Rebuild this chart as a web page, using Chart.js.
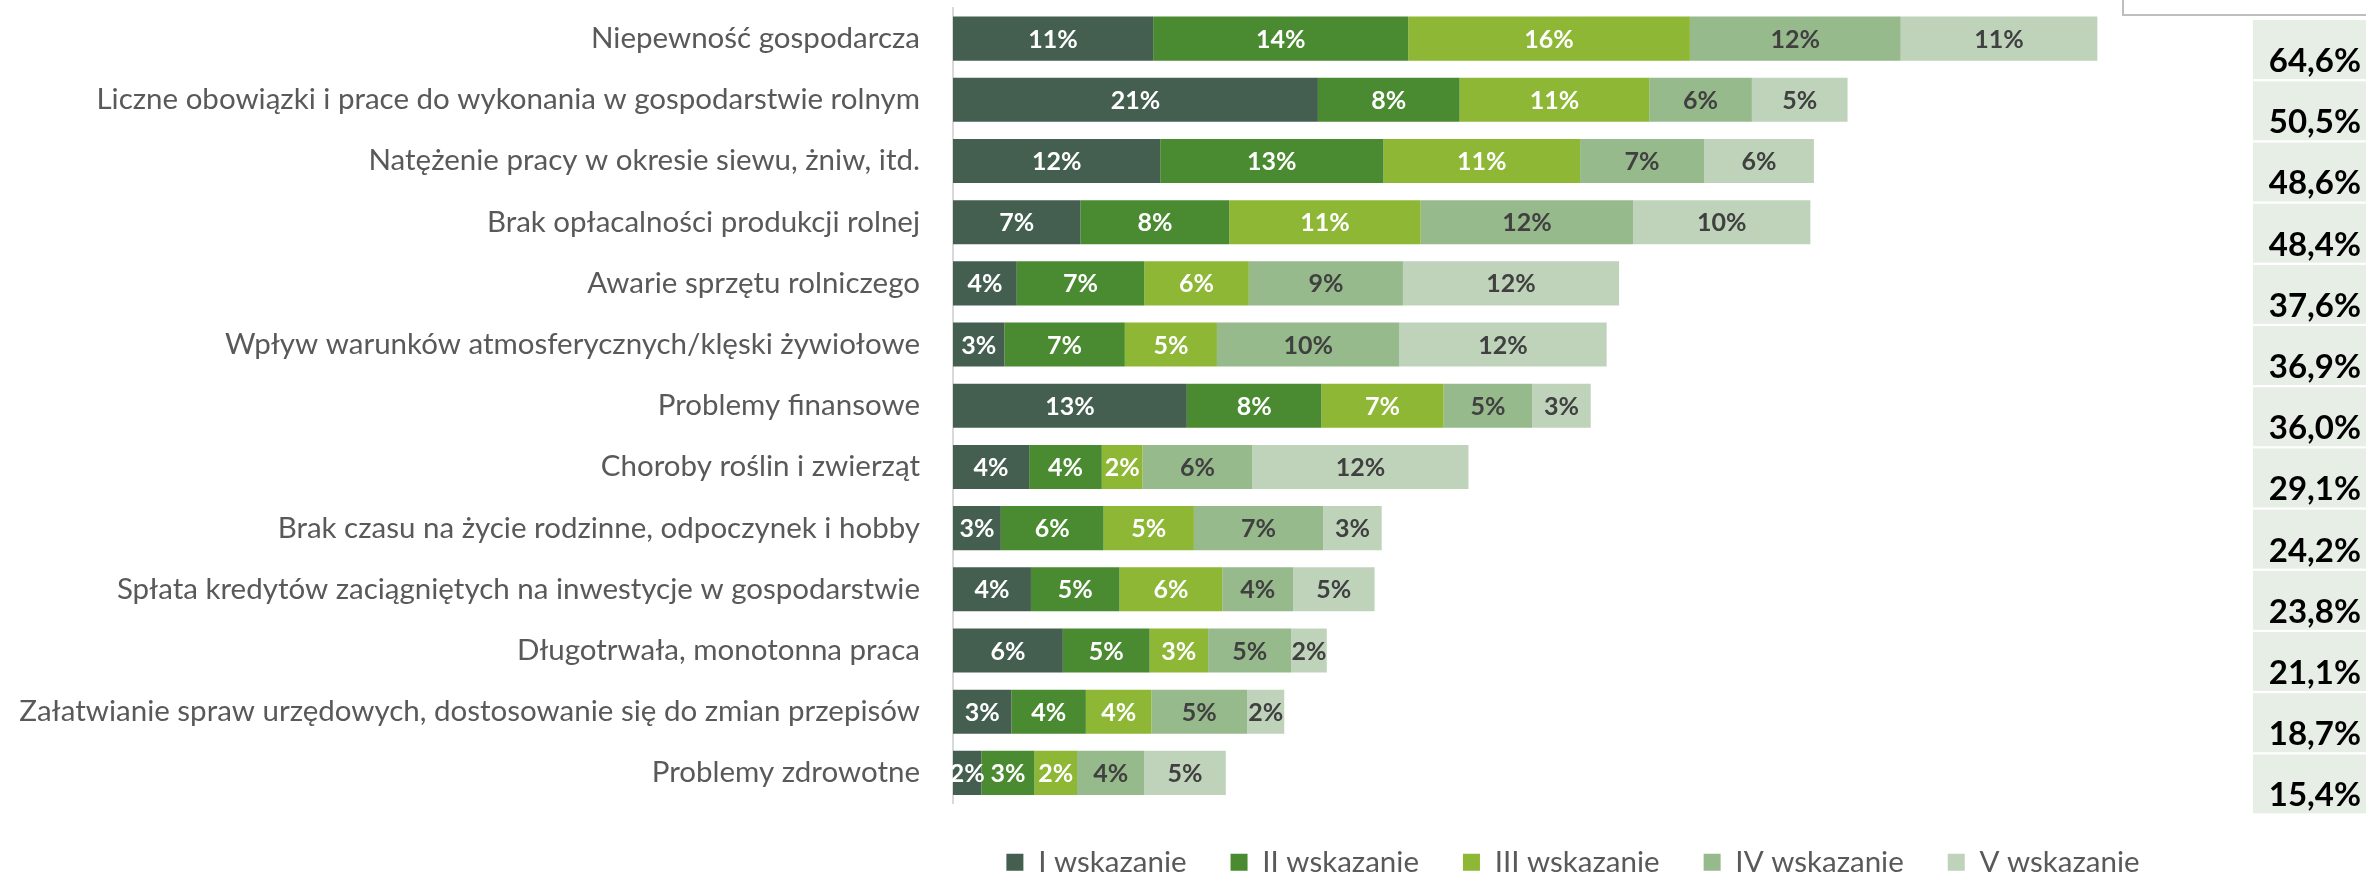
<!DOCTYPE html>
<html><head><meta charset="utf-8">
<script src="https://cdn.jsdelivr.net/npm/chart.js@4.4.1/dist/chart.umd.min.js"></script>
<style>html,body{margin:0;padding:0;background:#fff}#wrap{width:2366px;height:873px;position:relative}</style>
</head><body><div id="wrap"><canvas id="c" width="2366" height="873"></canvas></div>
<script>
const categories = [
  'Niepewność gospodarcza',
  'Liczne obowiązki i prace do wykonania w gospodarstwie rolnym',
  'Natężenie pracy w okresie siewu, żniw, itd.',
  'Brak opłacalności produkcji rolnej',
  'Awarie sprzętu rolniczego',
  'Wpływ warunków atmosferycznych/klęski żywiołowe',
  'Problemy finansowe',
  'Choroby roślin i zwierząt',
  'Brak czasu na życie rodzinne, odpoczynek i hobby',
  'Spłata kredytów zaciągniętych na inwestycje w gospodarstwie',
  'Długotrwała, monotonna praca',
  'Załatwianie spraw urzędowych, dostosowanie się do zmian przepisów',
  'Problemy zdrowotne'
];
const seriesNames = ['I wskazanie', 'II wskazanie', 'III wskazanie', 'IV wskazanie', 'V wskazanie'];
const wsk1 = [11.3, 20.6, 11.7, 7.2, 3.6, 2.9, 13.2, 4.3, 2.7, 4.4, 6.2, 3.3, 1.6];
const wsk2 = [14.4, 8.0, 12.6, 8.4, 7.2, 6.8, 7.6, 4.1, 5.8, 5.0, 4.9, 4.2, 3.0];
const wsk3 = [15.9, 10.7, 11.1, 10.8, 5.9, 5.2, 6.9, 2.3, 5.1, 5.8, 3.3, 3.7, 2.4];
const wsk4 = [11.9, 5.8, 7.0, 12.0, 8.7, 10.3, 5.0, 6.2, 7.3, 4.0, 4.7, 5.4, 3.8];
const wsk5 = [11.1, 5.4, 6.2, 10.0, 12.2, 11.7, 3.3, 12.2, 3.3, 4.6, 2.0, 2.1, 4.6];
const totals = [64.6, 50.5, 48.6, 48.4, 37.6, 36.9, 36.0, 29.1, 24.2, 23.8, 21.1, 18.7, 15.4];

const colors = ['#445F50', '#4A8A30', '#8DB735', '#97BA8C', '#BFD3BB'];
const labelColors = ['#ffffff', '#ffffff', '#ffffff', '#404040', '#404040'];
const seriesData = [wsk1, wsk2, wsk3, wsk4, wsk5];

const segLabels = {
  id: 'segLabels',
  afterDatasetsDraw(chart) {
    const ctx = chart.ctx;
    ctx.save();
    ctx.font = 'bold 25px Lato';
    ctx.textAlign = 'center';
    ctx.textBaseline = 'middle';
    chart.data.datasets.forEach((ds, i) => {
      const meta = chart.getDatasetMeta(i);
      ctx.fillStyle = labelColors[i];
      meta.data.forEach((bar, j) => {
        const p = bar.getProps(['x', 'y', 'base'], true);
        ctx.fillText(Math.round(ds.data[j]) + '%', (p.x + p.base) / 2, p.y + 1);
      });
    });
    ctx.restore();
  }
};

const totalsCol = {
  id: 'totalsCol',
  afterDraw(chart) {
    const ctx = chart.ctx;
    const ys = chart.scales.y;
    ctx.save();
    ctx.strokeStyle = '#BFBFBF';
    ctx.lineWidth = 2;
    ctx.strokeRect(2123, -20, 260, 35);
    totals.forEach((t, j) => {
      const yc = ys.getPixelForValue(j) + 11;
      ctx.fillStyle = '#E7EEE6';
      ctx.fillRect(2253, yc - 29.5, 120, 59);
      ctx.fillStyle = '#000000';
      ctx.font = 'bold 33px Lato';
      ctx.textAlign = 'right';
      ctx.textBaseline = 'alphabetic';
      ctx.fillText(t.toFixed(1).replace('.', ',') + '%', 2361, yc + 22.5);
    });
    ctx.restore();
  }
};

function build() {
  new Chart(document.getElementById('c'), {
    type: 'bar',
    data: {
      labels: categories,
      datasets: seriesData.map((d, i) => ({
        label: seriesNames[i],
        data: d,
        backgroundColor: colors[i],
        borderWidth: 0,
        barPercentage: 0.72,
        categoryPercentage: 1.0
      }))
    },
    options: {
      indexAxis: 'y',
      responsive: false,
      animation: false,
      devicePixelRatio: 1,
      layout: { padding: { left: 0, right: 173, top: 8, bottom: -14 } },
      plugins: {
        legend: {
          position: 'bottom',
          fullSize: false,
          labels: { boxWidth: 17, boxHeight: 17, padding: 44, color: '#595959', font: { family: 'Lato', size: 29.5 } }
        },
        tooltip: { enabled: false }
      },
      scales: {
        x: { stacked: true, min: 0, max: 70, display: false },
        y: {
          stacked: true,
          grid: { display: true, drawOnChartArea: false, drawTicks: true, tickLength: 33, color: 'rgba(0,0,0,0)' },
          border: { display: true, color: '#D9D9D9', width: 2 },
          ticks: { color: '#595959', font: { family: 'Lato', size: 29.5 }, padding: 0, autoSkip: false },
          afterFit(s) { s.width = 953; s.paddingTop = 0; s.paddingBottom = 0; }
        }
      }
    },
    plugins: [segLabels, totalsCol]
  });
}
if (document.fonts && document.fonts.load) {
  Promise.all([document.fonts.load('29.5px Lato'), document.fonts.load('bold 25px Lato')]).then(build, build);
} else { build(); }
</script>
</body></html>
